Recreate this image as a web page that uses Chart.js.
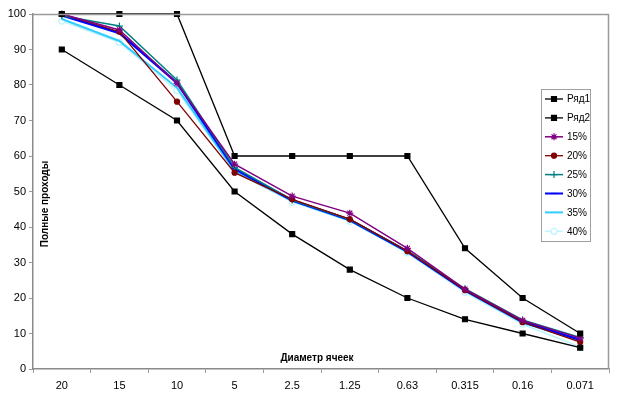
<!DOCTYPE html>
<html>
<head>
<meta charset="utf-8">
<script src="https://cdn.jsdelivr.net/npm/chart.js@4"></script>
<style>
  html, body { margin: 0; padding: 0; background: #fff; }
  #wrap { width: 622px; height: 396px; }
</style>
</head>
<body>
<div id="wrap"><canvas id="c" width="622" height="396"></canvas></div>
<script>
const diameters = ['20', '15', '10', '5', '2.5', '1.25', '0.63', '0.315', '0.16', '0.071']

const row1 = [100, 100, 100, 60, 60, 60, 60, 34, 20, 10]
const row2 = [90, 80, 70, 50, 38, 28, 20, 14, 10, 6]
const p15 = [100, 95.5, 80.5, 57.7, 48.7, 43.9, 34, 22.5, 13.7, 8.7]
const p20 = [100, 95, 75.3, 55.3, 47.8, 42.2, 33.2, 22.2, 13.2, 7.6]
const p25 = [99.5, 96.6, 81.4, 56.8, 47.6, 42.1, 33.3, 22.6, 13.8, 8.9]
const p30 = [99.6, 94.6, 80.6, 56.4, 47.5, 42, 33.1, 22.2, 13.3, 8.2]
const p35 = [98.6, 92.4, 79.2, 55.8, 47.4, 41.8, 32.9, 22, 13, 8]
const p40 = [98, 92, 78.4, 55.5, 47, 41.6, 32.7, 21.6, 12.6, 6.2]

const yTicks = [0, 10, 20, 30, 40, 50, 60, 70, 80, 90, 100]

const font = 'Liberation Sans'

function series(label, data, color, style, radius, width, fill) {
  return {
    label: label,
    data: data,
    borderColor: color,
    backgroundColor: fill || color,
    pointBackgroundColor: fill || color,
    pointBorderColor: color,
    pointStyle: style,
    pointRadius: radius,
    pointBorderWidth: 1.2,
    borderWidth: width,
    tension: 0,
    fill: false,
    clip: false,
  }
}

const datasets = [
  series('Ряд1', row1, '#000000', 'rect', 3.5, 1.3),
  series('Ряд2', row2, '#000000', 'rect', 3.5, 1.3),
  series('15%', p15, '#800080', 'star', 3.5, 1.5),
  series('20%', p20, '#800000', 'circle', 2.5, 1.3),
  series('25%', p25, '#008080', 'cross', 3.5, 1.5),
  series('30%', p30, '#0000ff', 'line', 3, 2.5),
  series('35%', p35, '#33ccff', 'line', 0, 2),
  series('40%', p40, '#bff4ff', 'circle', 3, 1.5, '#ffffff'),
]

// legend, axis titles and frame drawn inside the plot, as in the original
const decor = {
  id: 'decor',
  afterDraw(chart) {
    const ctx = chart.ctx
    const a = chart.chartArea
    ctx.save()
    ctx.strokeStyle = '#9a9a9a'
    ctx.lineWidth = 1.5
    ctx.beginPath()
    ctx.moveTo(a.left, a.top + 0.5)
    ctx.lineTo(a.right - 0.5, a.top + 0.5)
    ctx.lineTo(a.right - 0.5, a.bottom)
    ctx.stroke()

    ctx.fillStyle = '#000'
    ctx.font = 'bold 10px "' + font + '"'
    ctx.textAlign = 'center'
    ctx.textBaseline = 'middle'
    ctx.fillText('Диаметр ячеек', 317, 358)
    ctx.translate(45, 204)
    ctx.rotate(-Math.PI / 2)
    ctx.fillText('Полные проходы', 0, 0)
    ctx.restore()

    // legend box
    ctx.save()
    ctx.fillStyle = '#fff'
    ctx.fillRect(541, 89, 49, 152)
    ctx.strokeStyle = '#a0a0a0'
    ctx.lineWidth = 1
    ctx.strokeRect(541.5, 89.5, 49, 152)
    ctx.font = '10px "' + font + '"'
    ctx.textAlign = 'left'
    ctx.textBaseline = 'middle'
    chart.data.datasets.forEach((ds, i) => {
      const y = 99 + i * 18.9
      ctx.strokeStyle = ds.borderColor
      ctx.lineWidth = Math.min(ds.borderWidth, 2)
      ctx.beginPath()
      ctx.moveTo(545, y)
      ctx.lineTo(563, y)
      ctx.stroke()
      if (ds.pointRadius > 0) {
        ctx.fillStyle = ds.pointBackgroundColor
        ctx.strokeStyle = ds.pointBorderColor
        ctx.lineWidth = ds.pointBorderWidth
        Chart.helpers.drawPoint(ctx, {
          pointStyle: ds.pointStyle,
          radius: ds.pointRadius,
          borderWidth: ds.pointBorderWidth,
          rotation: 0,
        }, 554, y)
      }
      ctx.fillStyle = '#000'
      ctx.fillText(ds.label, 567, y + 0.5)
    })
    ctx.restore()
  },
}

new Chart(document.getElementById('c'), {
  type: 'line',
  data: { labels: diameters, datasets: datasets },
  options: {
    responsive: false,
    animation: false,
    devicePixelRatio: 1,
    layout: { padding: { top: 14, right: 13, left: 0, bottom: 0 } },
    plugins: {
      legend: { display: false },
      tooltip: { enabled: false },
    },
    scales: {
      x: {
        offset: true,
        grid: {
          offset: true,
          drawOnChartArea: false,
          tickLength: 4,
          color: '#9a9a9a',
        },
        border: { color: '#8a8a8a', width: 1.5 },
        ticks: {
          color: '#000',
          font: { family: font, size: 11 },
          padding: 6,
          maxRotation: 0,
        },
        afterFit(scale) { scale.height = 27 },
      },
      y: {
        min: 0,
        max: 100,
        afterBuildTicks(scale) { scale.ticks = yTicks.map((v) => ({ value: v })) },
        grid: {
          drawOnChartArea: false,
          tickLength: 4,
          color: '#9a9a9a',
        },
        border: { color: '#8a8a8a', width: 1.5 },
        ticks: {
          color: '#000',
          font: { family: font, size: 11 },
          padding: 3,
        },
        afterFit(scale) { scale.width = 33 },
      },
    },
  },
  plugins: [decor],
})
</script>
</body>
</html>
